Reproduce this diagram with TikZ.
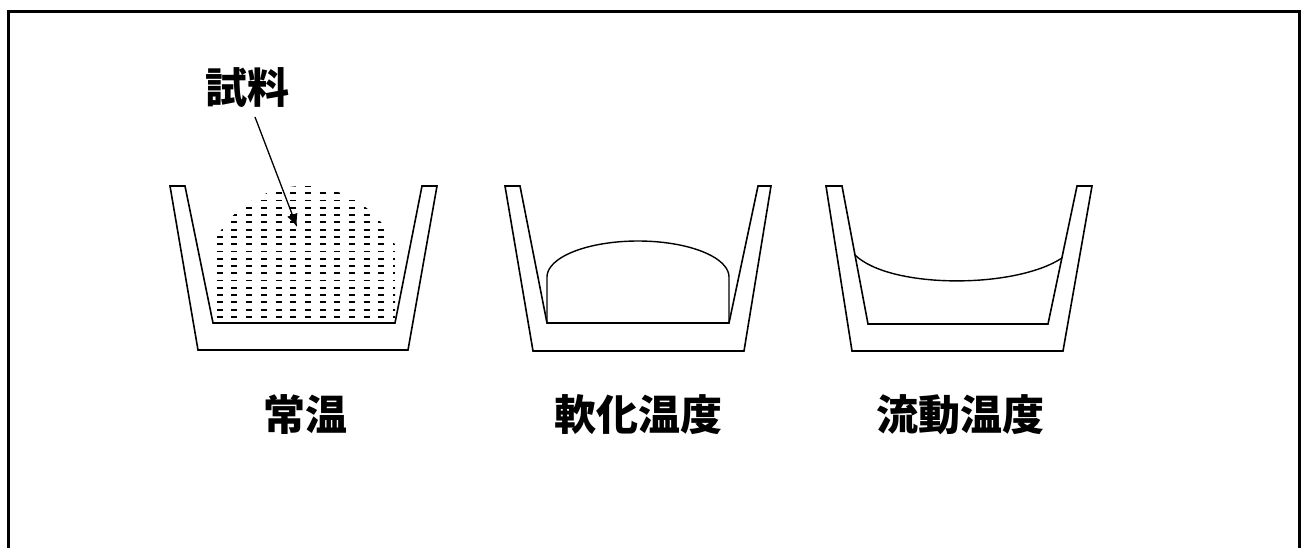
\documentclass[tikz,border=0pt]{standalone}
\usepackage{fontspec}
\newfontfamily\jpfont{Noto Sans CJK JP}
\usetikzlibrary{arrows.meta}
\begin{document}
\begin{tikzpicture}[x=1pt,y=-1pt,
  frameline/.style={line width=3pt},
  crucible/.style={line width=1.6pt,line join=miter},
  sampleline/.style={line width=1.4pt},
  hatchrow/.style={line width=1.8pt,dash pattern=on 6pt off 8.7pt,dash phase=0pt},
  caption/.style={font=\jpfont\bfseries\fontsize{42}{44}\selectfont,inner sep=0pt,anchor=center},
  pointer/.style={line width=1.3pt,-{Latex[length=13pt,width=11pt]}}]
\useasboundingbox (0,0) rectangle (1304,547);
% open frame
\draw[frameline] (8,548) -- (8,11) -- (1299,11) -- (1299,548);

% crucible at room temperature
\draw[crucible] (170,186) -- (198,350) -- (408,350) -- (437,186) -- (422,186)
  -- (395,323) -- (213,323) -- (185,186) -- cycle;
% hatched sample: cylinder with a domed top
\begin{scope}
  \clip (213,323) -- plot[domain=-65.5:65.5,samples=40,smooth] ({304+100*sin(\x)},{286-100*cos(\x)}) -- (395,323) -- cycle;
  \foreach \k in {-1,...,17}{
    \draw[hatchrow] (216.7-14.7*10,193.3+7.27*\k) -- (420,193.3+7.27*\k);
  }
\end{scope}

% crucible at softening temperature
\draw[crucible] (505,186) -- (533,351) -- (744,351) -- (771,186) -- (758,186)
  -- (729,323) -- (547,323) -- (520,186) -- cycle;
\draw[sampleline] (547,323) -- plot[domain=180:0,samples=40,smooth] ({638+91*cos(\x)},{277-36*sin(\x)}) -- (729,323);

% crucible at flow temperature
\draw[crucible] (826,186) -- (852,351) -- (1063,351) -- (1092,186) -- (1077,186)
  -- (1048,324) -- (868,324) -- (842,186) -- cycle;
\draw[sampleline] (855,255) .. controls (890,289) and (1015,289) .. (1062,258);

% labels
\node[caption] (sample) at (247,88) {試料};
\node[caption] (room) at (305,415) {常温};
\node[caption] (soft) at (638,415) {軟化温度};
\node[caption] (flow) at (960,415) {流動温度};

\coordinate (arrowstart) at (255,117);
\coordinate (arrowtip) at (297,227);
\draw[pointer] (arrowstart) -- (arrowtip);
\end{tikzpicture}
\end{document}
